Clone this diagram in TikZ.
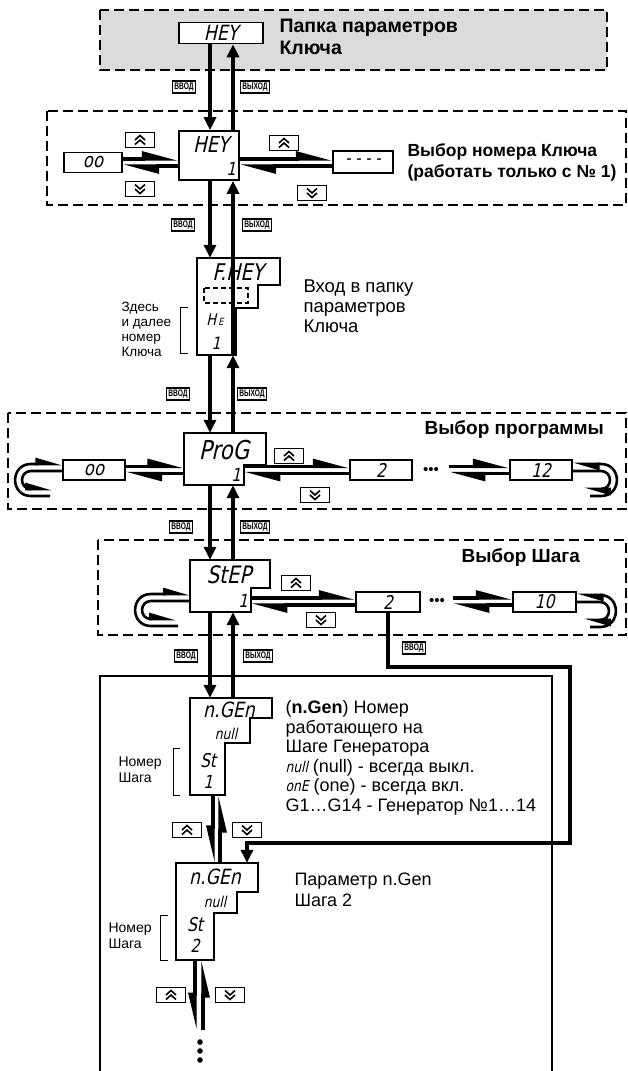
\documentclass[tikz,border=0pt]{standalone}
\usepackage{fontspec}
\setmainfont{Liberation Sans}
\newfontfamily\segfont{DejaVu Sans}[FakeStretch=0.82,FakeSlant=0.22]
\newfontfamily\narrowfont{Liberation Sans}[FakeStretch=0.7]
\usetikzlibrary{arrows.meta,calc}
\newcommand{\sg}[2]{{\segfont\fontsize{#1}{#1}\selectfont #2}}
\tikzset{
  disp/.style={draw,line width=1.6pt,fill=white,inner sep=0pt},
  hidden/.style={inner sep=0pt},
  sbox/.style={draw,line width=1.6pt,fill=white,minimum width=62pt,minimum height=20pt,inner sep=0pt},
  dsh/.style={line width=1.8pt,dash pattern=on 10pt off 5pt},
  outl/.style={line width=1.6pt},
  lbl/.style={draw,line width=1.3pt,inner sep=1.8pt,font=\narrowfont\bfseries\fontsize{9.5}{9.5}\selectfont},
  btn/.style={draw,line width=1.4pt,minimum width=29pt,minimum height=15pt,inner sep=0pt,fill=white},
  upbtn/.style={btn,path picture={
     \draw[line width=1.6pt]
       ($(path picture bounding box.center)+(-5,0)$) -- ++(5,-4.5) -- ++(5,4.5)
       ($(path picture bounding box.center)+(-5,4.5)$) -- ++(5,-4.5) -- ++(5,4.5);}},
  dnbtn/.style={btn,path picture={
     \draw[line width=1.6pt]
       ($(path picture bounding box.center)+(-5,0)$) -- ++(5,4.5) -- ++(5,-4.5)
       ($(path picture bounding box.center)+(-5,-4.5)$) -- ++(5,4.5) -- ++(5,-4.5);}},
  va/.style={line width=3.4pt,-{Triangle[length=13pt,width=12pt]}},
  hp/.style={line width=3.2pt,-{Triangle[harpoon,length=30pt,width=15pt]}},
  hps/.style={line width=3.2pt,-{Triangle[harpoon,swap,length=30pt,width=13pt]}},
  lp/.style={line width=2.6pt,-{Triangle[harpoon,length=22pt,width=12pt]}},
  bold/.style={font=\bfseries\fontsize{19}{22}\selectfont,align=left},
  note/.style={font=\fontsize{18.5}{20}\selectfont,align=left},
  small/.style={font=\fontsize{13.5}{14.7}\selectfont,align=left},
}
\begin{document}
\begin{tikzpicture}[x=1pt,y=-1pt]
\useasboundingbox (0,0) rectangle (628,1071);
% ---------- row 1
\fill[black!14] (100,10) rectangle (607,70);
\draw[dsh] (100,10) rectangle (607,70);
\node[disp,minimum width=84pt,minimum height=21pt] (hey1) at (221,33) {\sg{21}{HEY}};
\node[bold,anchor=north west,font=\bfseries\fontsize{19.5}{22}\selectfont] (t1) at (276,16) {Папка параметров\\Ключа};
\coordinate (tA) at (210,0);
\coordinate (tB) at (233,0);
% ---------- row 2
\draw[dsh] (47,111) rectangle (626,205);
\node[disp,minimum width=60pt,minimum height=49pt] (hey2) at (209,155.5) {};
\node[hidden] (hey2t) at (211,144) {\sg{22}{HEY}};
\node[hidden,anchor=east] (hey2n) at (236,169) {\sg{18}{1}};
\node[sbox,minimum width=58pt] (b00k) at (93,162.5) {\sg{20}{oo}};
\node[sbox,minimum width=60pt,minimum height=22pt] (bdash) at (363,162) {\sg{18}{- - - -}};
\draw[hp] (b00k.east |- 0,159) -- (hey2.west |- 0,159);
\draw[hp] (hey2.west |- 0,166) -- (b00k.east |- 0,166);
\draw[hp] (hey2.east |- 0,159) -- (bdash.west |- 0,159);
\draw[hp] (bdash.west |- 0,166) -- (hey2.east |- 0,166);
\node[upbtn] (u1) at (140,140) {};
\node[dnbtn] (d1) at (140,189) {};
\node[upbtn] (u2) at (284,143) {};
\node[dnbtn] (d2) at (312,193) {};
\node[bold,anchor=west,font=\bfseries\fontsize{17.5}{21}\selectfont] (t2) at (404,162) {Выбор номера Ключа\\(работать только с № 1)};
\draw[va] (hey1.south -| tA) -- (hey2.north -| tA);
\draw[va] (hey2.north -| tB) -- (hey1.south -| tB);
\node[lbl] (v1) at (184,87) {ВВОД};
\node[lbl] (x1) at (255,87) {ВЫХОД};
% ---------- F.KEY
\node[hidden,minimum width=83pt,minimum height=97pt] (fhey) at (238.5,306.5) {};
\draw[outl,fill=white] (197,258) -- (280,258) -- (280,285) -- (258,285) -- (258,308) -- (236,308) -- (236,355) -- (197,355) -- cycle;
\node[hidden] (fheyt) at (238,272) {\sg{23}{F.HEY}};
\draw[line width=1.1pt,dash pattern=on 5pt off 3pt] (204,288) rectangle (248,303);
\node[hidden] (fheyk) at (215,320) {\sg{16}{H\kern2pt{\fontsize{10}{10}\selectfont E}}};
\node[hidden] (fheyn) at (216,343) {\sg{17}{1}};
\draw[line width=0.9pt] (188,307) -- (180,307) -- (180,353) -- (188,353);
\node[small,anchor=north west] (t3) at (118,299) {Здесь\\и далее\\номер\\Ключа};
\node[note,anchor=north west] (t4) at (300,276) {Вход в папку\\параметров\\Ключа};
\draw[va] (hey2.south -| tA) -- (fhey.north -| tA);
\draw[va] (fhey.south -| tB) -- (hey2.south -| tB);
\node[lbl] (v2) at (183,225) {ВВОД};
\node[lbl] (x2) at (257,225) {ВЫХОД};
% ---------- row 3 : ProG
\draw[dsh] (8,413) rectangle (626,509);
\node[hidden,minimum width=82pt,minimum height=52pt] (prog) at (225,459) {};
\draw[outl,fill=white] (184,433) -- (266,433) -- (266,465) -- (244,465) -- (244,485) -- (184,485) -- cycle;
\coordinate (progR) at (244,470);
\node[hidden] (progt) at (224,450) {\sg{26}{ProG}};
\node[hidden,anchor=east] (progn) at (241,475) {\sg{18}{1}};
\node[sbox] (b00p) at (94,470) {\sg{20}{oo}};
\node[sbox] (b2p) at (381,470) {\hfill\sg{19}{2}\hspace{5pt}};
\node[hidden] (dots3) at (431,471) {\fontsize{15}{15}\selectfont\textbullet\textbullet\textbullet};
\node[sbox] (b12p) at (541,470) {\hfill\sg{19}{12}\hspace{5pt}};
\draw[hp] (b00p.east |- 0,466.5) -- (prog.west |- 0,466.5);
\draw[hp] (prog.west |- 0,473.5) -- (b00p.east |- 0,473.5);
\draw[hp] (progR |- 0,466.5) -- (b2p.west |- 0,466.5);
\draw[hp] (b2p.west |- 0,473.5) -- (progR |- 0,473.5);
\draw[hp] ($(dots3.east |- 0,466.5)+(10,0)$) -- (b12p.west |- 0,466.5);
\draw[hp] (b12p.west |- 0,473.5) -- ($(dots3.east |- 0,473.5)+(10,0)$);
\node[upbtn] (u3) at (289,456) {};
\node[dnbtn] (d3) at (315,495) {};
\node[bold,anchor=west] (t5) at (421,429) {Выбор программы};
% loops row 3
\draw[lp] (50,496) -- (31,496) to[out=180,in=180,looseness=1.7] (31,464) -- (b00p.west |- 0,464);
\draw[lp] (b00p.west |- 0,471) -- (31,471) to[out=180,in=180,looseness=1.7] (31,489) -- (52,489);
\draw[lp] (590,496) -- (601,496) to[out=0,in=0,looseness=1.7] (601,464) -- (b12p.east |- 0,464);
\draw[lp] (b12p.east |- 0,471) -- (601,471) to[out=0,in=0,looseness=1.7] (601,489) -- (584,489);
\draw[va] (fhey.south -| tA) -- (prog.north -| tA);
\draw[va] (prog.north -| tB) -- (fhey.south -| tB);
\node[lbl] (v3) at (178,394) {ВВОД};
\node[lbl] (x3) at (252,394) {ВЫХОД};
% ---------- row 4 : StEP
\draw[dsh] (98,540) rectangle (626,635);
\node[hidden,minimum width=80pt,minimum height=52pt] (step) at (230,586) {};
\draw[outl,fill=white] (190,560) -- (270,560) -- (270,588) -- (251,588) -- (251,612) -- (190,612) -- cycle;
\coordinate (stepR) at (251,600);
\node[hidden] (stept) at (229,575) {\sg{24}{StEP}};
\node[hidden,anchor=east] (stepn) at (248,601) {\sg{18}{1}};
\node[sbox,minimum width=64pt] (b2s) at (388,602) {\hfill\sg{19}{2}\hspace{5pt}};
\node[hidden] (dots4) at (437,602) {\fontsize{15}{15}\selectfont\textbullet\textbullet\textbullet};
\node[sbox,minimum width=63pt] (b10s) at (544.5,602) {\hfill\sg{19}{10}\hspace{5pt}};
\draw[hp] (stepR |- 0,598) -- (b2s.west |- 0,598);
\draw[hp] (b2s.west |- 0,605) -- (stepR |- 0,605);
\draw[hp] ($(dots4.east |- 0,598)+(8,0)$) -- (b10s.west |- 0,598);
\draw[hp] (b10s.west |- 0,605) -- ($(dots4.east |- 0,605)+(8,0)$);
\node[upbtn] (u4) at (296,583) {};
\node[dnbtn] (d4) at (321,620) {};
\node[bold,anchor=west] (t6) at (458,557) {Выбор Шага};
\draw[lp] (178,626) -- (151,626) to[out=180,in=180,looseness=1.7] (151,594) -- (step.west |- 0,594);
\draw[lp] (step.west |- 0,601) -- (151,601) to[out=180,in=180,looseness=1.7] (151,619) -- (176,619);
\draw[lp] (590,627) -- (600,627) to[out=0,in=0,looseness=1.7] (600,595) -- (b10s.east |- 0,595);
\draw[lp] (b10s.east |- 0,602) -- (600,602) to[out=0,in=0,looseness=1.7] (600,620) -- (584,620);
\draw[va] (prog.south -| tA) -- (step.north -| tA);
\draw[va] (step.north -| tB) -- (prog.south -| tB);
\node[lbl] (v4) at (181,527) {ВВОД};
\node[lbl] (x4) at (255,527) {ВЫХОД};
% ---------- bottom frame
\draw[line width=1.7pt] (100,1080) -- (100,676) -- (552,676) -- (552,1080);
% n.Gen 1
\node[hidden,minimum width=82pt,minimum height=97pt] (ng1) at (231,746.5) {};
\draw[outl,fill=white] (190,698) -- (272,698) -- (272,718) -- (250,718) -- (250,743) -- (225,743) -- (225,795) -- (190,795) -- cycle;
\node[hidden] (ng1t) at (229,710) {\sg{21}{n.GEn}};
\node[hidden] (ng1u) at (226,734) {\sg{15}{null}};
\node[hidden] (ng1s) at (208,761) {\sg{19}{St}};
\node[hidden] (ng1n) at (208,782) {\sg{18}{1}};
\draw[line width=0.9pt] (180,748) -- (173,748) -- (173,795) -- (180,795);
\node[anchor=north west,align=left,font=\fontsize{14}{16}\selectfont] (t7) at (115,753) {Номер\\Шага};
\node[note,anchor=north west,font=\fontsize{18}{19.5}\selectfont] (t8) at (282,697) {(\textbf{n.Gen}) Номер\\работающего на\\Шаге Генератора\\\sg{15}{null} (null) - всегда выкл.\\\sg{15}{onE} (one) - всегда вкл.\\G1…G14 - Генератор №1…14};
\draw[va] (step.south -| tA) -- (ng1.north -| tA);
\draw[va] (ng1.north -| tB) -- (step.south -| tB);
\node[lbl] (v5) at (186,656) {ВВОД};
\node[lbl] (x5) at (258,656) {ВЫХОД};
% n.Gen 2
\node[hidden,minimum width=82pt,minimum height=97pt] (ng2) at (217,911.5) {};
\draw[outl,fill=white] (176,863) -- (258,863) -- (258,892) -- (237,892) -- (237,913) -- (214,913) -- (214,960) -- (176,960) -- cycle;
\node[hidden] (ng2t) at (215,877) {\sg{21}{n.GEn}};
\node[hidden] (ng2u) at (215,902) {\sg{15}{null}};
\node[hidden] (ng2s) at (195,925) {\sg{19}{St}};
\node[hidden] (ng2n) at (195,946) {\sg{18}{2}};
\draw[line width=0.9pt] (168,915) -- (160,915) -- (160,960) -- (168,960);
\node[anchor=north west,align=left,font=\fontsize{14}{16}\selectfont] (t9) at (105,919) {Номер\\Шага};
\node[note,anchor=north west,font=\fontsize{18}{21}\selectfont] (t10) at (291,869) {Параметр n.Gen\\Шага 2};
\coordinate (gA) at (213,0);
\coordinate (gB) at (220,0);
\draw[hps] (ng1.south -| gA) -- (ng2.north -| gA);
\draw[hps] (ng2.north -| gB) -- (ng1.south -| gB);
\node[upbtn] (u5) at (187,830) {};
\node[dnbtn] (d5) at (247,830) {};
% VVOD route from step 2
\coordinate (r1) at (570,667);
\coordinate (r2) at (570,843);
\draw[line width=3.4pt,-{Triangle[length=13pt,width=12pt]}] (b2s.south) |- (r1) -- (r2) -| (ng2.north -| 247,0);
\node[lbl] (v6) at (414,648) {ВВОД};
% below n.Gen2
\coordinate (gC) at (195,0);
\coordinate (gD) at (203,0);
\coordinate (endpt) at (200,1030);
\draw[hps] (ng2.south -| gC) -- (endpt -| gC);
\draw[hps] (endpt -| gD) -- (ng2.south -| gD);
\node[upbtn] (u6) at (171,995) {};
\node[dnbtn] (d6) at (230,995) {};
\fill (200,1042) circle (2.8) (200,1051) circle (2.8) (200,1060) circle (2.8);
\end{tikzpicture}
\end{document}
